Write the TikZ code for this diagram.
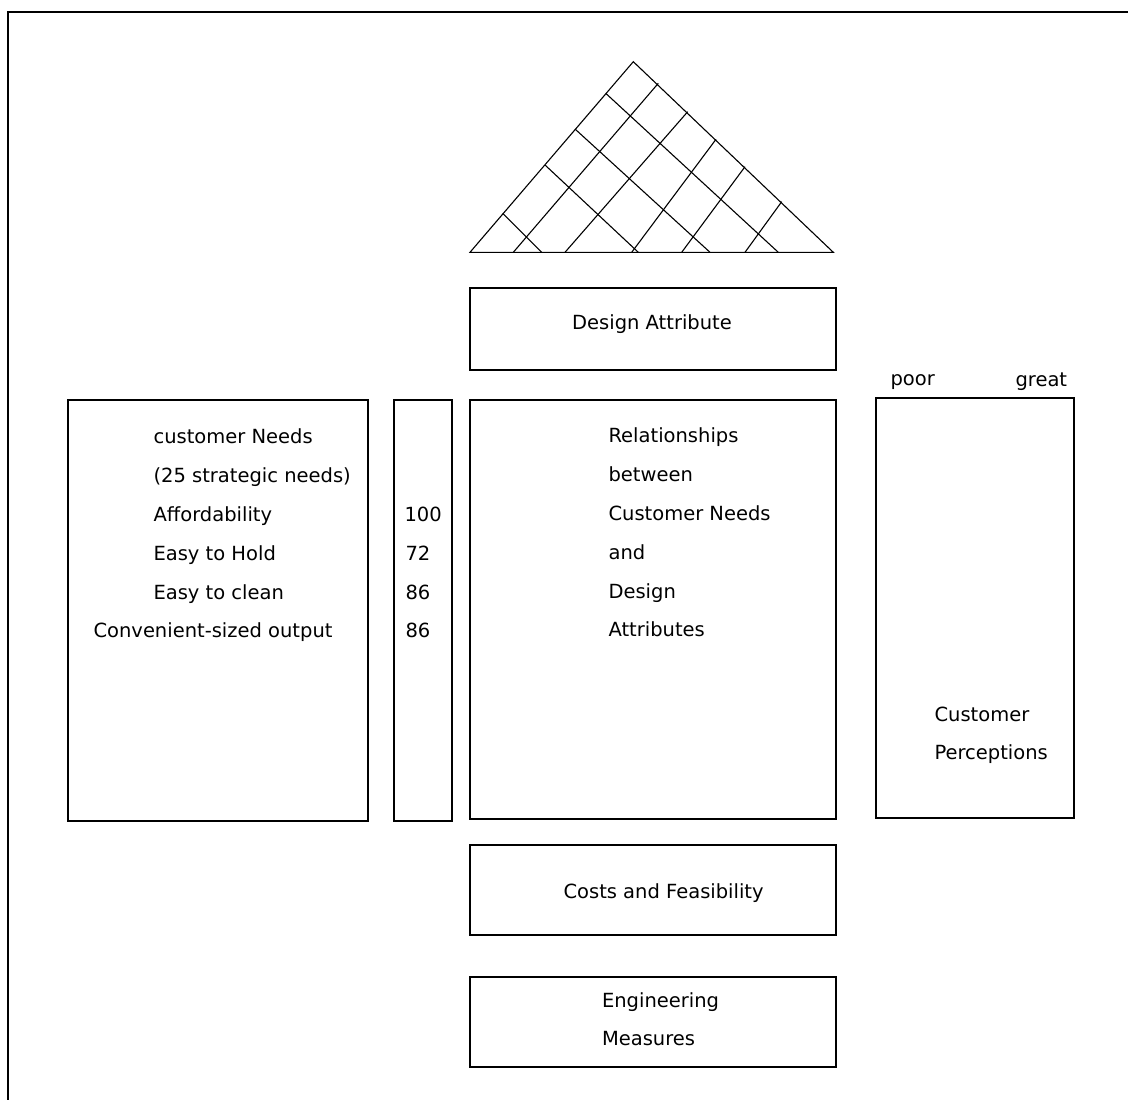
\documentclass[tikz,border=0pt]{standalone}
\usepackage{fontspec}
\setmainfont{DejaVu Sans}
\begin{document}
\begin{tikzpicture}[x=1pt,y=-1pt,line width=1.1pt,
  box/.style={draw,line width=1.1pt,inner sep=0pt},
  txt/.style={anchor=base west,inner sep=0pt,font=\fontsize{19.5}{23}\selectfont},
  ctxt/.style={anchor=base,inner sep=0pt,font=\fontsize{19.5}{23}\selectfont}]
\useasboundingbox (0,0) rectangle (1128,1100);
% outer frame
\draw (8,1100) -- (8,12) -- (1128,12);
% roof triangle
\coordinate (apex) at (633.3,61.7);
\coordinate (bl) at (470,252.3);
\coordinate (br) at (833.3,252.3);
\draw (bl) -- (apex) -- (br) -- cycle;
\draw (605.7,93.3) -- (778.3,252.3);
\draw (575,129) -- (710,252.3);
\draw (545,165) -- (638.3,252.3);
\draw (502.7,213.3) -- (541.7,252.3);
\draw (513.3,252.3) -- (658.3,83.3);
\draw (565,252.3) -- (687.7,111.7);
\draw (631.7,252.3) -- (716,139.3);
\draw (681.7,252.3) -- (745,166.7);
\draw (745,252.3) -- (781.7,201.7);
% boxes
\node[box,minimum width=366pt,minimum height=82pt] (design) at (653,329) {};
\node[box,minimum width=300pt,minimum height=421pt] (needs) at (218,610.5) {};
\node[box,minimum width=58pt,minimum height=421pt] (weights) at (423,610.5) {};
\node[box,minimum width=366pt,minimum height=419pt] (rel) at (653,609.5) {};
\node[box,minimum width=198pt,minimum height=420pt] (perc) at (975,608) {};
\node[box,minimum width=366pt,minimum height=90pt] (costs) at (653,890) {};
\node[box,minimum width=366pt,minimum height=90pt] (eng) at (653,1022) {};
% texts
\node[ctxt] (tdesign) at (652,329) {Design Attribute};
\node[txt] (n1) at (153,443) {customer Needs};
\node[txt] (n2) at (153,482) {(25 strategic needs)};
\node[txt] (n3) at (153,521) {Affordability};
\node[txt] (n4) at (153,560) {Easy to Hold};
\node[txt] (n5) at (153,599) {Easy to clean};
\node[txt] (n6) at (93,637) {Convenient-sized output};
\node[txt] (w1) at (404,521) {100};
\node[txt] (w2) at (405,560) {72};
\node[txt] (w3) at (405,599) {86};
\node[txt] (w4) at (405,637) {86};
\node[txt] (r1) at (608,442) {Relationships};
\node[txt] (r2) at (608,481) {between};
\node[txt] (r3) at (608,520) {Customer Needs};
\node[txt] (r4) at (608,559) {and};
\node[txt] (r5) at (608,598) {Design};
\node[txt] (r6) at (608,636) {Attributes};
\node[txt] (poor) at (890,385) {poor};
\node[txt] (great) at (1015,386.5) {great};
\node[txt] (p1) at (934,721.5) {Customer};
\node[txt] (p2) at (934,759) {Perceptions};
\node[txt] (tcosts) at (563,898) {Costs and Feasibility};
\node[txt] (e1) at (601.5,1007) {Engineering};
\node[txt] (e2) at (601.5,1045) {Measures};
\end{tikzpicture}
\end{document}
